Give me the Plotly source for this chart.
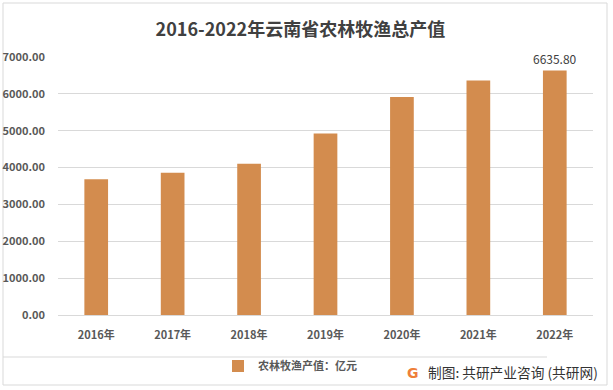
import plotly.graph_objects as go

years = ["2016年", "2017年", "2018年", "2019年", "2020年", "2021年", "2022年"]
values = [3685, 3860, 4105, 4925, 5915, 6365, 6635.80]
labels = ["", "", "", "", "", "", "6635.80"]
y_ticks = [0, 1000, 2000, 3000, 4000, 5000, 6000, 7000]
y_tick_text = ["0.00", "1000.00", "2000.00", "3000.00", "4000.00", "5000.00", "6000.00", "7000.00"]

W, H = 613, 390
L, R, T, B = 58, 20, 57, 75
PW, PH = W - L - R, H - T - B
FONT = "Noto Sans CJK SC"
BAR = "#D38C4E"


def px(x):
    return (x - L) / PW


def py(y):
    return 1 - (y - T) / PH


fig = go.Figure()
fig.add_trace(go.Bar(
    x=years, y=values, name="<b>农林牧渔产值：亿元</b>",
    marker=dict(color=BAR, line=dict(width=0)),
    width=0.31,
    text=labels, textposition="outside", cliponaxis=False, constraintext="none",
    textfont=dict(family=FONT, size=12, color="#404040"),
))

fig.update_layout(
    width=W, height=H,
    margin=dict(l=L, r=R, t=T, b=B, autoexpand=False),
    paper_bgcolor="white", plot_bgcolor="white",
    title=dict(text="<b>2016-2022年云南省农林牧渔总产值</b>", x=0.49, xanchor="center",
               y=1 - 30 / H, yanchor="middle",
               font=dict(family=FONT, size=18, color="#404040")),
    font=dict(family=FONT, color="#595959"),
    showlegend=True,
    legend=dict(orientation="h", x=px(290), xanchor="center", y=py(366),
                yanchor="middle", font=dict(family=FONT, size=11, color="#595959"),
                itemwidth=30, bgcolor="rgba(0,0,0,0)"),
)
fig.update_xaxes(showgrid=False, showline=True, linecolor="#D9D9D9", linewidth=1,
                 ticks="", ticklabelstandoff=10, automargin=False,
                 tickvals=years, ticktext=["<b>" + y + "</b>" for y in years],
                 tickfont=dict(family=FONT, size=11, color="#595959"))
fig.update_yaxes(range=[0, 7000], tickvals=y_ticks, ticktext=["<b>" + t + "</b>" for t in y_tick_text],
                 showgrid=True, gridcolor="#D9D9D9", gridwidth=1, zeroline=False,
                 showline=False, ticks="", ticklabelstandoff=12, automargin=False,
                 tickfont=dict(family=FONT, size=11, color="#595959"))

# borders
fig.add_shape(type="rect", xref="paper", yref="paper",
              x0=px(3), x1=px(607), y0=py(385), y1=py(3),
              line=dict(color="#D9D9D9", width=1), layer="below")
fig.add_shape(type="line", xref="paper", yref="paper",
              x0=px(3), x1=px(547), y0=py(357), y1=py(357),
              line=dict(color="#D9D9D9", width=1), layer="below")

# watermark
fig.add_annotation(xref="paper", yref="paper", x=px(405), y=py(373),
                   xanchor="left", yanchor="middle", showarrow=False,
                   text="<b>G</b>", font=dict(family="DejaVu Sans", size=14, color="#EE7F3A"))
fig.add_annotation(xref="paper", yref="paper", x=px(426), y=py(372),
                   xanchor="left", yanchor="middle", showarrow=False,
                   text="制图: 共研产业咨询 (共研网)", font=dict(family=FONT, size=13.7, color="#333333"))

fig.write_html("out.html", config={"displayModeBar": False},
               post_script="document.body.style.margin='0';document.body.style.overflow='hidden';")
